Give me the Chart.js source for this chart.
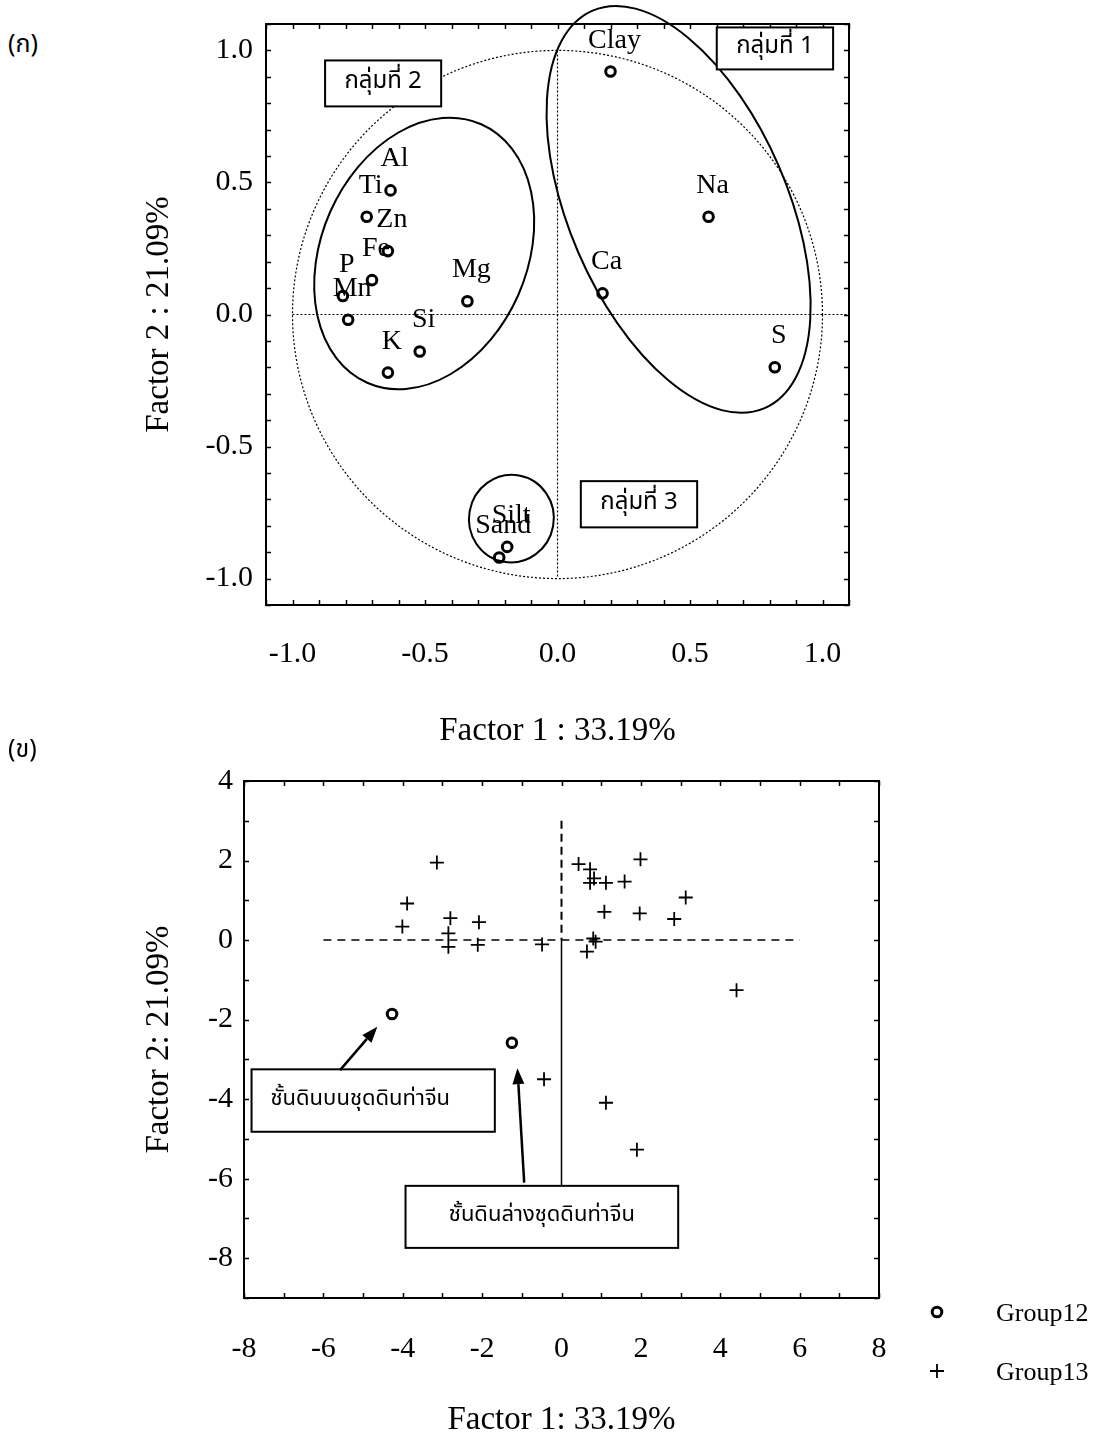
<!DOCTYPE html>
<html>
<head>
<meta charset="utf-8">
<script src="https://cdn.jsdelivr.net/npm/chart.js@4.4.1/dist/chart.umd.min.js"></script>
<style>
  body { margin: 0; background: #fff; }
  #page { position: relative; width: 1105px; height: 1443px; }
  canvas { position: absolute; left: 0; }
  .tag { position: absolute; left: 8px; font-size: 25px; font-family: "Noto Sans Thai", "Noto Sans", sans-serif; }
</style>
</head>
<body>
<div id="page">
  <div class="tag" style="top:25px">(ก)</div>
  <canvas id="loadings" width="1105" height="760" style="top:0"></canvas>
  <div class="tag" style="top:730px">(ข)</div>
  <canvas id="scores" width="1105" height="683" style="top:760px"></canvas>
</div>
<script>
// (ก) factor loadings
const varNames = ['Clay', 'Na', 'Ca', 'S', 'Al', 'Ti', 'Zn', 'Fe', 'P', 'Mn', 'Mg', 'Si', 'K', 'Silt', 'Sand'];
const factor1 = [0.20, 0.57, 0.17, 0.82, -0.63, -0.72, -0.64, -0.70, -0.81, -0.79, -0.34, -0.52, -0.64, -0.19, -0.22];
const factor2 = [0.92, 0.37, 0.08, -0.20, 0.47, 0.37, 0.24, 0.13, 0.07, -0.02, 0.05, -0.14, -0.22, -0.88, -0.92];
const loadingTicks = [-1.0, -0.5, 0.0, 0.5, 1.0];

// (ข) factor scores
const group12X = [-4.27, -1.25];
const group12Y = [-1.86, -2.58];
const group13X = [-3.14, -3.89, -4.01, -2.80, -2.85, -2.85, -2.08, -2.11, -0.49,
                  0.43, 0.72, 0.82, 0.72, 1.12, 1.59, 1.99, 3.13, 1.08, 1.97, 2.84,
                  0.80, 0.86, 0.64, 4.41, -0.44, 1.12, 1.90];
const group13Y = [1.95, 0.92, 0.34, 0.55, 0.17, -0.17, 0.45, -0.12, -0.11,
                  1.91, 1.78, 1.55, 1.44, 1.44, 1.47, 2.03, 1.07, 0.71, 0.67, 0.53,
                  0.04, -0.04, -0.29, -1.26, -3.50, -4.09, -5.27];
const scoreTicksX = [-8, -6, -4, -2, 0, 2, 4, 6, 8];
const scoreTicksY = [4, 2, 0, -2, -4, -6, -8];

const SERIF = "'Liberation Serif', 'Times New Roman', serif";
const THAI = "'Noto Sans Thai', 'Noto Sans', sans-serif";

// group outlines and boxes in chart (ก), data units
const groupEllipses = [
    { cx: 0.457, cy: 0.398, rx: 0.412, ry: 0.82, rot: -23.4 },
    { cx: -0.503, cy: 0.231, rx: 0.388, ry: 0.535, rot: 23.8 },
    { cx: -0.174, cy: -0.773, rx: 0.16, ry: 0.166, rot: 10 }
];
const groupBoxes = [
    { x1: 0.601, y1: 1.087, x2: 1.040, y2: 0.928, text: 'กลุ่มที่ 1' },
    { x1: -0.877, y1: 0.962, x2: -0.439, y2: 0.788, text: 'กลุ่มที่ 2' },
    { x1: 0.088, y1: -0.631, x2: 0.527, y2: -0.806, text: 'กลุ่มที่ 3' }
];

// callouts in chart (ข), data units (tx = where the text is centred)
const scoreBoxes = [
    { x1: -7.81, y1: -3.25, x2: -1.68, y2: -4.82, tx: -5.07, text: 'ชั้นดินบนชุดดินท่าจีน' },
    { x1: -3.93, y1: -6.18, x2: 2.94, y2: -7.74, text: 'ชั้นดินล่างชุดดินท่าจีน' }
];
const scoreArrows = [
    { x0: -5.58, y0: -3.27, x1: -4.64, y1: -2.18 },
    { x0: -0.94, y0: -6.10, x1: -1.11, y1: -3.22 }
];

function fixedTicks(values) {
    return function(axis) {
        axis.ticks = values.map(v => ({ value: v }));
    };
}

// fixed axis box size, and no extra room asked for overhanging labels
function fixedSize(prop, size) {
    return function(axis) {
        axis[prop] = size;
        axis.paddingTop = axis.paddingBottom = axis.paddingLeft = axis.paddingRight = 0;
    };
}

// frame with small inward ticks on all four sides
function drawFrame(chart, stepX, stepY) {
    const { ctx, chartArea: a, scales: { x, y } } = chart;
    ctx.save();
    ctx.strokeStyle = '#000';
    ctx.lineWidth = 1.5;
    ctx.beginPath();
    for (let i = Math.ceil(x.min / stepX - 1e-9); i * stepX <= x.max + 1e-9; i++) {
        const px = Math.round(x.getPixelForValue(i * stepX)) + 0.5;
        ctx.moveTo(px, a.top); ctx.lineTo(px, a.top + 5);
        ctx.moveTo(px, a.bottom); ctx.lineTo(px, a.bottom - 5);
    }
    for (let i = Math.ceil(y.min / stepY - 1e-9); i * stepY <= y.max + 1e-9; i++) {
        const py = Math.round(y.getPixelForValue(i * stepY)) + 0.5;
        ctx.moveTo(a.left, py); ctx.lineTo(a.left + 5, py);
        ctx.moveTo(a.right, py); ctx.lineTo(a.right - 5, py);
    }
    ctx.stroke();
    ctx.lineWidth = 2;
    ctx.strokeRect(a.left, a.top, a.right - a.left, a.bottom - a.top);
    ctx.restore();
}

function drawBox(chart, b, fontSize) {
    const { ctx, scales: { x, y } } = chart;
    const l = x.getPixelForValue(b.x1), r = x.getPixelForValue(b.x2);
    const t = y.getPixelForValue(b.y1), bt = y.getPixelForValue(b.y2);
    const tx = b.tx !== undefined ? x.getPixelForValue(b.tx) : (l + r) / 2;
    ctx.save();
    ctx.fillStyle = '#fff';
    ctx.fillRect(l, t, r - l, bt - t);
    ctx.strokeStyle = '#000';
    ctx.lineWidth = 2;
    ctx.strokeRect(l, t, r - l, bt - t);
    ctx.fillStyle = '#000';
    ctx.font = fontSize + 'px ' + THAI;
    ctx.textAlign = 'center';
    ctx.textBaseline = 'middle';
    ctx.fillText(b.text, tx, (t + bt) / 2);
    ctx.restore();
}

const loadingDecor = {
    id: 'loadingDecor',
    beforeDatasetsDraw(chart) {
        const { ctx, scales: { x, y } } = chart;
        const ox = x.getPixelForValue(0), oy = y.getPixelForValue(0);
        ctx.save();
        // unit circle and axes through the origin
        ctx.strokeStyle = '#000';
        ctx.lineWidth = 1.2;
        ctx.setLineDash([2, 2]);
        ctx.beginPath();
        ctx.ellipse(ox, oy, x.getPixelForValue(1) - ox, oy - y.getPixelForValue(1), 0, 0, Math.PI * 2);
        ctx.stroke();
        ctx.beginPath();
        ctx.moveTo(ox, y.getPixelForValue(1)); ctx.lineTo(ox, y.getPixelForValue(-1));
        ctx.moveTo(x.getPixelForValue(-1), oy); ctx.lineTo(x.getPixelForValue(x.max), oy);
        ctx.stroke();
        ctx.setLineDash([]);
        // group outlines
        ctx.lineWidth = 2;
        groupEllipses.forEach(e => {
            const cx = x.getPixelForValue(e.cx), cy = y.getPixelForValue(e.cy);
            const rx = x.getPixelForValue(e.cx + e.rx) - cx;
            const ry = cy - y.getPixelForValue(e.cy + e.ry);
            ctx.beginPath();
            ctx.ellipse(cx, cy, rx, ry, e.rot * Math.PI / 180, 0, Math.PI * 2);
            ctx.stroke();
        });
        ctx.restore();
        drawFrame(chart, 0.1, 0.1);
    },
    afterDatasetsDraw(chart) {
        const { ctx } = chart;
        const pts = chart.getDatasetMeta(0).data;
        ctx.save();
        ctx.fillStyle = '#000';
        ctx.font = '28px ' + SERIF;
        ctx.textAlign = 'center';
        ctx.textBaseline = 'alphabetic';
        pts.forEach((p, i) => ctx.fillText(varNames[i], p.x + 4, p.y - 24));
        ctx.restore();
        groupBoxes.forEach(b => drawBox(chart, b, 24));
    }
};

function drawMarker(ctx, style, px, py) {
    ctx.beginPath();
    if (style === 'circle') {
        ctx.lineWidth = 3;
        ctx.arc(px, py, 4.8, 0, Math.PI * 2);
    } else {
        ctx.lineWidth = 1.8;
        ctx.moveTo(px - 7, py); ctx.lineTo(px + 7, py);
        ctx.moveTo(px, py - 7); ctx.lineTo(px, py + 7);
    }
    ctx.stroke();
}

const scoreDecor = {
    id: 'scoreDecor',
    beforeDatasetsDraw(chart) {
        const { ctx, scales: { x, y } } = chart;
        const ox = x.getPixelForValue(0), oy = y.getPixelForValue(0);
        ctx.save();
        ctx.strokeStyle = '#000';
        ctx.lineWidth = 1.5;
        ctx.setLineDash([8, 6]);
        ctx.beginPath();
        ctx.moveTo(x.getPixelForValue(-6), oy); ctx.lineTo(x.getPixelForValue(6), oy);
        ctx.stroke();
        ctx.lineWidth = 2;
        ctx.setLineDash([8, 5]);
        ctx.beginPath();
        ctx.moveTo(ox, y.getPixelForValue(3)); ctx.lineTo(ox, oy);
        ctx.stroke();
        ctx.setLineDash([]);
        ctx.lineWidth = 1.5;
        ctx.beginPath();
        ctx.moveTo(ox, oy); ctx.lineTo(ox, y.getPixelForValue(-6.2));
        ctx.stroke();
        ctx.restore();
        drawFrame(chart, 1, 1);
    },
    afterDatasetsDraw(chart) {
        const { ctx, scales: { x, y } } = chart;
        scoreBoxes.forEach(b => drawBox(chart, b, 22));
        ctx.save();
        ctx.strokeStyle = '#000';
        ctx.fillStyle = '#000';
        scoreArrows.forEach(ar => {
            const x0 = x.getPixelForValue(ar.x0), y0 = y.getPixelForValue(ar.y0);
            const x1 = x.getPixelForValue(ar.x1), y1 = y.getPixelForValue(ar.y1);
            const ang = Math.atan2(y1 - y0, x1 - x0);
            const head = 16, half = 6;
            const bx = x1 - head * Math.cos(ang), by = y1 - head * Math.sin(ang);
            ctx.lineWidth = 2.5;
            ctx.beginPath();
            ctx.moveTo(x0, y0); ctx.lineTo(bx, by);
            ctx.stroke();
            ctx.beginPath();
            ctx.moveTo(x1, y1);
            ctx.lineTo(bx + half * Math.sin(ang), by - half * Math.cos(ang));
            ctx.lineTo(bx - half * Math.sin(ang), by + half * Math.cos(ang));
            ctx.closePath();
            ctx.fill();
        });
        // legend
        ctx.font = '26px ' + SERIF;
        ctx.textAlign = 'left';
        ctx.textBaseline = 'middle';
        chart.data.datasets.forEach((ds, i) => {
            const ly = 552 + i * 59;
            drawMarker(ctx, ds.pointStyle, 937, ly);
            ctx.fillText(ds.label, 996, ly + 2);
        });
        ctx.restore();
    }
};

function axisFont(size) {
    return { family: 'Liberation Serif', size: size };
}

new Chart(document.getElementById('loadings'), {
    type: 'scatter',
    data: {
        datasets: [{
            label: 'Loadings',
            data: factor1.map((v, i) => ({ x: v, y: factor2[i] })),
            pointStyle: 'circle',
            pointRadius: 4.8,
            pointHoverRadius: 4.8,
            borderWidth: 3,
            borderColor: '#000',
            backgroundColor: 'rgba(0,0,0,0)'
        }]
    },
    options: {
        responsive: false,
        animation: false,
        events: [],
        layout: { padding: { top: 24, right: 256, left: 0, bottom: 0 } },
        plugins: { legend: { display: false }, tooltip: { enabled: false } },
        scales: {
            x: {
                type: 'linear', min: -1.1, max: 1.1,
                afterBuildTicks: fixedTicks(loadingTicks),
                afterFit: fixedSize('height', 155),
                grid: { display: false, drawTicks: false }, border: { display: false },
                ticks: { color: '#000', font: axisFont(30), padding: 31, maxRotation: 0, autoSkip: false,
                         callback: v => v.toFixed(1) },
                title: { display: true, text: 'Factor 1 : 33.19%', color: '#000', font: axisFont(33),
                         padding: { top: 0, bottom: 9 } }
            },
            y: {
                type: 'linear', min: -1.1, max: 1.1,
                afterBuildTicks: fixedTicks(loadingTicks),
                afterFit: fixedSize('width', 266),
                grid: { display: false, drawTicks: false }, border: { display: false },
                ticks: { color: '#000', font: axisFont(30), padding: 13, autoSkip: false,
                         callback: v => v.toFixed(1) },
                title: { display: true, text: 'Factor 2 : 21.09%', color: '#000', font: axisFont(33),
                         padding: { top: 140, bottom: 0 } }
            }
        }
    },
    plugins: [loadingDecor]
});

new Chart(document.getElementById('scores'), {
    type: 'scatter',
    data: {
        datasets: [{
            label: 'Group12',
            data: group12X.map((v, i) => ({ x: v, y: group12Y[i] })),
            pointStyle: 'circle',
            pointRadius: 4.8,
            pointHoverRadius: 4.8,
            borderWidth: 3,
            borderColor: '#000',
            backgroundColor: 'rgba(0,0,0,0)'
        }, {
            label: 'Group13',
            data: group13X.map((v, i) => ({ x: v, y: group13Y[i] })),
            pointStyle: 'cross',
            pointRadius: 7,
            pointHoverRadius: 7,
            borderWidth: 1.8,
            borderColor: '#000',
            backgroundColor: '#000'
        }]
    },
    options: {
        responsive: false,
        animation: false,
        events: [],
        layout: { padding: { top: 21, right: 226, left: 0, bottom: 0 } },
        plugins: { legend: { display: false }, tooltip: { enabled: false } },
        scales: {
            x: {
                type: 'linear', min: -8, max: 8,
                afterBuildTicks: fixedTicks(scoreTicksX),
                afterFit: fixedSize('height', 145),
                grid: { display: false, drawTicks: false }, border: { display: false },
                ticks: { color: '#000', font: axisFont(30), padding: 33, maxRotation: 0, autoSkip: false },
                title: { display: true, text: 'Factor 1: 33.19%', color: '#000', font: axisFont(33),
                         padding: { top: 0, bottom: 3 } }
            },
            y: {
                type: 'linear', min: -9, max: 4,
                afterBuildTicks: fixedTicks(scoreTicksY),
                afterFit: fixedSize('width', 244),
                grid: { display: false, drawTicks: false }, border: { display: false },
                ticks: { color: '#000', font: axisFont(30), padding: 11, autoSkip: false },
                title: { display: true, text: 'Factor 2: 21.09%', color: '#000', font: axisFont(33),
                         padding: { top: 140, bottom: 0 } }
            }
        }
    },
    plugins: [scoreDecor]
});
</script>
</body>
</html>
